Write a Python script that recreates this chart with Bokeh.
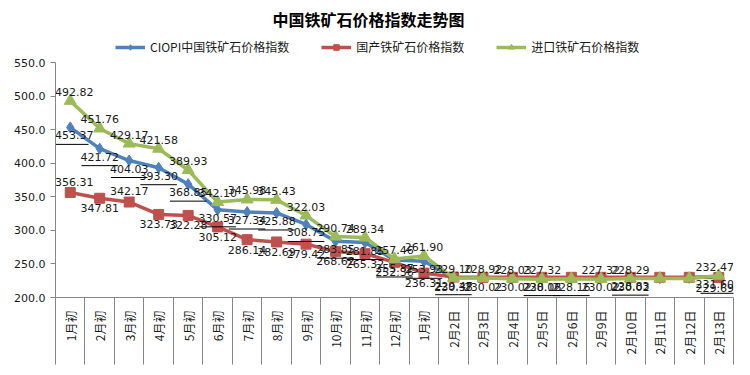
import math
from bokeh.plotting import figure
from bokeh.models import (ColumnDataSource, Range1d, FixedTicker, Legend, LegendItem,
                          NumeralTickFormatter)
from bokeh.core.properties import value
from bokeh.embed import file_html
from bokeh.resources import INLINE

# ---------------- data ----------------
categories = ["1月初", "2月初", "3月初", "4月初", "5月初", "6月初", "7月初", "8月初",
              "9月初", "10月初", "11月初", "12月初", "1月初", "2月2日", "2月3日", "2月4日",
              "2月5日", "2月6日", "2月9日", "2月10日", "2月11日", "2月12日", "2月13日"]

ciopi = [453.37, 421.72, 404.03, 393.30, 368.85, 330.57, 327.34, 325.88, 308.75, 283.85,
         281.85, 255.87, 253.93, 229.47, 229.60, 229.10, 228.16, 228.16, 228.60, 228.83,
         229.00, 229.30, 231.60]
domestic = [356.31, 347.81, 342.17, 323.73, 322.28, 305.12, 286.14, 282.69, 279.42, 268.62,
            265.32, 252.36, 236.31, 230.38, 230.02, 230.02, 230.02, 230.02, 230.02, 230.02,
            230.02, 230.02, 229.69]
imported = [492.82, 451.76, 429.17, 421.58, 389.93, 342.10, 345.98, 345.43, 322.03, 290.74,
            289.34, 257.46, 261.90, 229.10, 228.92, 228.03, 227.32, 227.80, 227.32, 228.29,
            228.30, 228.40, 232.47]

# points that carry a data label in the reference
ciopi_labelled = list(range(14)) + [16, 17, 19, 22]
domestic_labelled_above = [0, 2]
domestic_labelled_below = [1] + list(range(3, 14)) + [14, 15, 16, 18, 19, 22]
imported_labelled = list(range(14)) + [14, 15, 16, 18, 19, 22]

y_ticks = [200, 250, 300, 350, 400, 450, 500, 550]

series_names = ["CIOPI中国铁矿石价格指数", "国产铁矿石价格指数", "进口铁矿石价格指数"]
chart_title = "中国铁矿石价格指数走势图"

# ---------------- styles ----------------
BLUE = "#4F81BD"
RED = "#C0504D"
GREEN = "#9BBB59"
AXIS = "#868686"
TXT = "#1a1a1a"
CJK = "Noto Sans CJK SC"
NUM = "DejaVu Sans"

W, H = 750, 375
LEFT, RIGHT, TOP, BOTTOM = 55, 17, 34, 78
Y0, Y_TOP_TICK = 200, 550
AXIS_H = 235                      # pixel height of the 200..550 span
FRAME_H = H - TOP - BOTTOM
px = (Y_TOP_TICK - Y0) / AXIS_H   # data units per pixel
Y1 = Y0 + FRAME_H * px            # frame extends above 550 to hold the legend
EDGE_SHIFT = 4                    # keep edge labels inside the plot area

xs = list(range(len(categories)))

p = figure(width=W, height=H, title=chart_title,
           x_range=Range1d(-0.5, len(categories) - 0.5), y_range=Range1d(Y0, Y1),
           output_backend="svg", toolbar_location=None,
           min_border_left=LEFT, min_border_right=RIGHT, min_border_bottom=BOTTOM,
           min_border_top=TOP)
p.title.align = "left"
p.title.offset = 217
p.title.standoff = 8
p.title.text_font = CJK
p.title.text_font_size = "16px"
p.title.text_font_style = "bold"
p.title.text_color = "#000000"
p.xgrid.visible = False
p.ygrid.visible = False
p.outline_line_color = None
p.background_fill_color = "white"
p.border_fill_color = "white"

# axes
p.xaxis.ticker = FixedTicker(ticks=xs, minor_ticks=[i - 0.5 for i in range(len(categories) + 1)])
p.xaxis.major_label_overrides = {i: c for i, c in enumerate(categories)}
p.xaxis.major_label_orientation = math.pi / 2
p.xaxis.major_label_standoff = -54
p.xaxis.major_tick_line_color = None
p.xaxis.major_tick_out = 0
p.xaxis.major_tick_in = 0
p.xaxis.minor_tick_out = 67
p.xaxis.minor_tick_in = 0
p.xaxis.minor_tick_line_color = AXIS
p.xaxis.axis_line_color = AXIS
p.xaxis.major_label_text_font = CJK
p.xaxis.major_label_text_font_size = "12px"
p.xaxis.major_label_text_color = TXT

p.yaxis.ticker = FixedTicker(ticks=y_ticks, minor_ticks=[])
p.yaxis.bounds = (Y0, Y_TOP_TICK)
p.yaxis.formatter = NumeralTickFormatter(format="0.0")
p.yaxis.major_tick_out = 5
p.yaxis.major_tick_in = 0
p.yaxis.major_tick_line_color = AXIS
p.yaxis.axis_line_color = AXIS
p.yaxis.major_label_text_font = NUM
p.yaxis.major_label_text_font_size = "11px"
p.yaxis.major_label_text_color = TXT
p.yaxis.major_label_standoff = 5

# series
renderers = []
for vals, color, marker, size in [(ciopi, BLUE, "diamond", 11),
                                  (domestic, RED, "square", 10),
                                  (imported, GREEN, "triangle", 12)]:
    src = ColumnDataSource(dict(x=xs, y=vals))
    ln = p.line("x", "y", source=src, line_color=color, line_width=3.5)
    sc = p.scatter("x", "y", source=src, marker=marker, size=size,
                   fill_color=color, line_color=color)
    renderers.append((ln, sc))

# labels
last = len(categories) - 1
def label_src(vals, idx):
    return ColumnDataSource(dict(
        x=[xs[i] for i in idx], y=[vals[i] for i in idx],
        t=[f"{vals[i]:.2f}" for i in idx],
        dx=[EDGE_SHIFT if i == 0 else (-EDGE_SHIFT if i == last else 0) for i in idx]))

lbl = dict(text_font=value(NUM), text_font_size="11px", text_color=TXT, text_align="center",
           x_offset="dx")
p.text("x", "y", text="t", source=label_src(imported, imported_labelled),
       text_baseline="bottom", y_offset=-5, **lbl)
p.text("x", "y", text="t", source=label_src(domestic, domestic_labelled_above),
       text_baseline="bottom", y_offset=-7, **lbl)
p.text("x", "y", text="t", source=label_src(domestic, domestic_labelled_below),
       text_baseline="top", y_offset=6, **lbl)
p.text("x", "y", text="t", source=label_src(ciopi, ciopi_labelled),
       text_baseline="top", y_offset=4, **lbl)
ul = ColumnDataSource(dict(x0=[xs[i] - 0.62 for i in ciopi_labelled],
                           x1=[xs[i] + 0.62 for i in ciopi_labelled],
                           y=[ciopi[i] - 17 * px for i in ciopi_labelled]))
p.segment(x0="x0", y0="y", x1="x1", y1="y", source=ul, line_color="#000000", line_width=1)

# legend (inside the frame, above the 550 line)
legend = Legend(items=[LegendItem(label=n, renderers=list(r)) for n, r in zip(series_names, renderers)],
                orientation="horizontal", location=(60, AXIS_H + 7),
                border_line_color=None, background_fill_alpha=0,
                label_text_font=CJK, label_text_font_size="12px", label_text_color=TXT,
                glyph_width=30, glyph_height=14, label_standoff=5, spacing=32,
                padding=2, margin=0)
p.add_layout(legend, "center")

open("out.html", "w").write(file_html(p, INLINE))
